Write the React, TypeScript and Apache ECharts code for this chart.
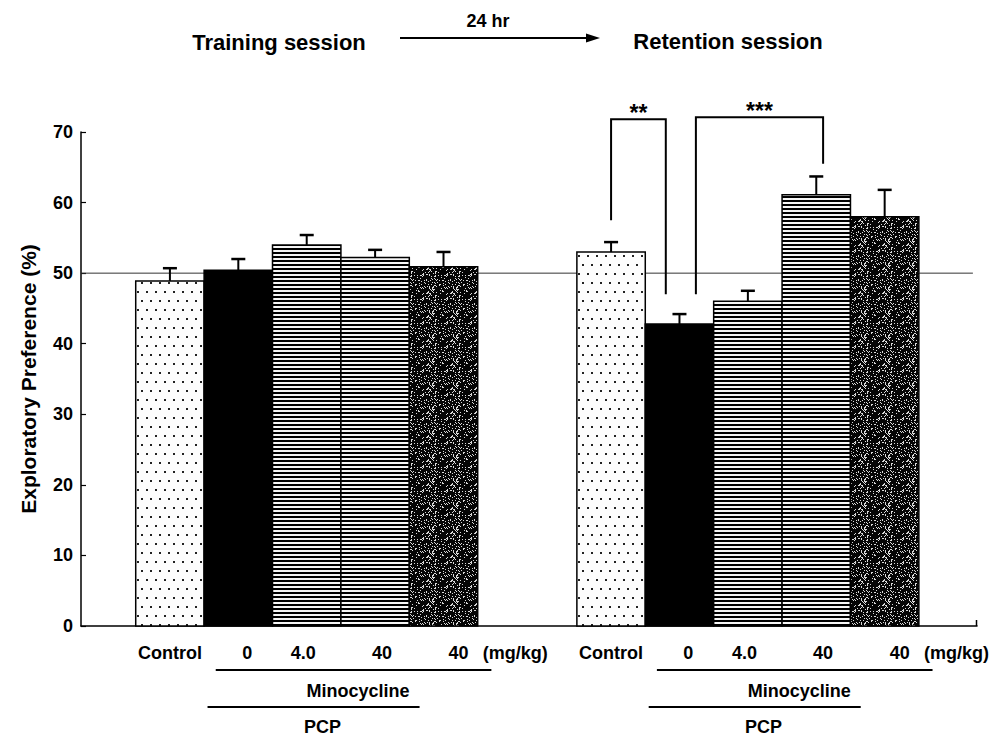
import React, { useEffect, useRef } from 'react';
import * as echarts from 'echarts';

// ---------- data ----------
const doseLabels = ['Control', '0', '4.0', '40', '40'];
const unitLabel = '(mg/kg)';
const drugLabels = ['Minocycline', 'PCP'];
const sessionTitles = ['Training session', 'Retention session'];
const intervalLabel = '24 hr';
const trainingMeans = [48.9, 50.4, 54.0, 52.2, 50.9];
const trainingSEM = [1.8, 1.6, 1.4, 1.1, 2.1];
const retentionMeans = [53.0, 42.8, 46.0, 61.1, 58.0];
const retentionSEM = [1.4, 1.4, 1.5, 2.6, 3.8];
const yMin = 0;
const yMax = 70;
const yInterval = 10;
const chanceLevel = 50;
// significance brackets in the retention session (bar indices, value levels)
const sigLabels = ['**', '***'];
const sigFrom = [0, 1];
const sigTo = [1, 3];
const sigTop = [71.8, 72.1];
const sigFromBottom = [57.5, 47.0];
const sigToBottom = [47.0, 65.5];

// ---------- layout (not data) ----------
const X_MAX = 13.1;
const GROUP_START = [0.8, 7.25];
const LABEL_OFFSETS = [0.5, 1.63, 2.45, 3.6, 4.72];
const UNIT_OFFSET = 5.55;
const BRACKET_OFFSETS = [[0, -0.2], [0.24, 0.1]];
const FONT = '"Liberation Sans", Arial, Helvetica, sans-serif';

function hash(x: number, y: number) {
  let h = (x * 374761393 + y * 668265263) | 0;
  h = (h ^ (h >>> 13)) * 1274126177;
  h = h ^ (h >>> 16);
  return Math.abs(h) % 100;
}

function makePatterns(): any[] {
  const mk = (w: number, h: number, draw: (ctx: CanvasRenderingContext2D) => void) => {
    const c = document.createElement('canvas');
    c.width = w;
    c.height = h;
    const ctx = c.getContext('2d')!;
    draw(ctx);
    return { image: c, repeat: 'repeat', imageWidth: w, imageHeight: h };
  };
  const dotted = mk(9, 18, (ctx) => {
    ctx.fillStyle = '#fdfdfd';
    ctx.fillRect(0, 0, 9, 18);
    ctx.fillStyle = '#222';
    ctx.fillRect(2, 3, 2, 2);
    ctx.fillRect(6, 12, 2, 2);
  });
  const stripes = mk(4, 4, (ctx) => {
    ctx.fillStyle = '#f6f6f6';
    ctx.fillRect(0, 0, 4, 4);
    ctx.fillStyle = '#000';
    ctx.fillRect(0, 0, 4, 2);
  });
  const speckle = mk(24, 24, (ctx) => {
    ctx.fillStyle = '#050505';
    ctx.fillRect(0, 0, 24, 24);
    ctx.fillStyle = '#d8d8d8';
    for (let x = 0; x < 24; x++) {
      for (let y = 0; y < 24; y++) {
        if (hash(x, y) < 20) ctx.fillRect(x, y, 1, 1);
      }
    }
  });
  return [dotted, '#000', stripes, stripes, speckle];
}

export default function App() {
  const ref = useRef<HTMLDivElement>(null);

  useEffect(() => {
    if (!ref.current) return;
    document.body.style.margin = '0';
    const chart = echarts.init(ref.current, undefined, { renderer: 'svg' });
    const patterns = makePatterns();

    const groups = [
      { means: trainingMeans, sem: trainingSEM },
      { means: retentionMeans, sem: retentionSEM },
    ];
    const barData: number[][] = [];
    groups.forEach((g, gi) => {
      g.means.forEach((m, i) => {
        barData.push([GROUP_START[gi] + i + 0.5, m, i, g.sem[i]]);
      });
    });

    const option: any = {
      animation: false,
      backgroundColor: '#fff',
      grid: { left: 81, top: 132, right: 19, bottom: 110, outerBoundsMode: 'none' },
      xAxis: {
        type: 'value',
        min: 0,
        max: X_MAX,
        axisLine: { show: true, onZero: false, lineStyle: { color: '#000', width: 1.5 } },
        axisTick: { show: false },
        axisLabel: { show: false },
        splitLine: { show: false },
      },
      yAxis: {
        type: 'value',
        min: yMin,
        max: yMax,
        interval: yInterval,
        name: 'Exploratory Preference (%)',
        nameLocation: 'middle',
        nameGap: 42,
        nameTextStyle: { fontFamily: FONT, fontWeight: 'bold', fontSize: 21, color: '#000' },
        axisLine: { show: true, lineStyle: { color: '#000', width: 1.5 } },
        axisTick: { show: true, inside: true, length: 5, lineStyle: { color: '#000', width: 1.2 } },
        axisLabel: { fontFamily: FONT, fontWeight: 'bold', fontSize: 18, color: '#000', margin: 8 },
        splitLine: { show: false },
      },
      graphic: [
        {
          type: 'text', x: 279, y: 42,
          style: { text: sessionTitles[0], fill: '#000', font: `bold 22px ${FONT}`, align: 'center', verticalAlign: 'middle' },
        },
        {
          type: 'text', x: 728, y: 41,
          style: { text: sessionTitles[1], fill: '#000', font: `bold 22px ${FONT}`, align: 'center', verticalAlign: 'middle' },
        },
        {
          type: 'text', x: 488, y: 21,
          style: { text: intervalLabel, fill: '#000', font: `bold 18px ${FONT}`, align: 'center', verticalAlign: 'middle' },
        },
        {
          type: 'line', shape: { x1: 400, y1: 38, x2: 590, y2: 38 },
          style: { stroke: '#000', lineWidth: 2 },
        },
        {
          type: 'polygon', shape: { points: [[586, 33.5], [600, 38], [586, 42.5]] },
          style: { fill: '#000' },
        },
      ],
      series: [
        {
          type: 'line',
          name: 'chance',
          data: [[0, chanceLevel], [13.04, chanceLevel]],
          symbol: 'none',
          silent: true,
          z: 1,
          lineStyle: { color: '#333', width: 1 },
        },
        {
          type: 'custom',
          name: 'bars',
          z: 2,
          clip: false,
          data: barData,
          renderItem: (params: any, api: any) => {
            const x = api.value(0);
            const v = api.value(1);
            const kind = api.value(2);
            const p0 = api.coord([x - 0.5, v]);
            const p1 = api.coord([x + 0.5, 0]);
            return {
              type: 'rect',
              shape: { x: p0[0], y: p0[1], width: p1[0] - p0[0], height: p1[1] - p0[1] },
              style: { fill: patterns[kind], stroke: '#000', lineWidth: 1.5 },
            };
          },
        },
        {
          type: 'custom',
          name: 'errors',
          z: 3,
          clip: false,
          data: barData,
          renderItem: (params: any, api: any) => {
            const x = api.value(0);
            const v = api.value(1);
            const e = api.value(3);
            const b = api.coord([x, v]);
            const t = api.coord([x, v + e]);
            return {
              type: 'group',
              children: [
                { type: 'line', shape: { x1: b[0], y1: b[1], x2: t[0], y2: t[1] }, style: { stroke: '#000', lineWidth: 2 } },
                { type: 'line', shape: { x1: t[0] - 7, y1: t[1], x2: t[0] + 7, y2: t[1] }, style: { stroke: '#000', lineWidth: 2.5 } },
              ],
            };
          },
        },
        {
          type: 'custom',
          name: 'brackets',
          z: 4,
          clip: false,
          data: sigLabels.map((_, k) => [k]),
          renderItem: (params: any, api: any) => {
            const k = api.value(0);
            const base = GROUP_START[1] + 0.5;
            const xl = base + sigFrom[k] + BRACKET_OFFSETS[k][0];
            const xr = base + sigTo[k] + BRACKET_OFFSETS[k][1];
            const a = api.coord([xl, sigFromBottom[k]]);
            const b = api.coord([xl, sigTop[k]]);
            const c = api.coord([xr, sigTop[k]]);
            const d = api.coord([xr, sigToBottom[k]]);
            return {
              type: 'group',
              children: [
                { type: 'polyline', shape: { points: [a, b, c, d] }, style: { stroke: '#000', lineWidth: 2, fill: 'none' } },
                {
                  type: 'text',
                  x: (b[0] + c[0]) / 2,
                  y: b[1] + 5,
                  style: { text: sigLabels[k], fill: '#000', font: `bold 23px ${FONT}`, align: 'center', verticalAlign: 'bottom' },
                },
              ],
            };
          },
        },
        {
          type: 'custom',
          name: 'groupLabels',
          z: 4,
          clip: false,
          data: [[0], [1]],
          renderItem: (params: any, api: any) => {
            const g = api.value(0);
            const start = GROUP_START[g];
            const y0 = api.coord([0, 0])[1];
            const px = (u: number) => api.coord([start + u, 0])[0];
            const txt = (s: string, x: number, y: number, size: number) => ({
              type: 'text',
              x,
              y,
              style: { text: s, fill: '#000', font: `bold ${size}px ${FONT}`, align: 'center', verticalAlign: 'middle' },
            });
            const children: any[] = [];
            doseLabels.forEach((s, i) => children.push(txt(s, px(LABEL_OFFSETS[i]), y0 + 27, 18)));
            children.push(txt(unitLabel, px(UNIT_OFFSET), y0 + 27, 18));
            children.push({ type: 'line', shape: { x1: px(1.17), y1: y0 + 44, x2: px(5.2), y2: y0 + 44 }, style: { stroke: '#000', lineWidth: 2 } });
            children.push(txt(drugLabels[0], px(3.25), y0 + 65, 18));
            children.push({ type: 'line', shape: { x1: px(1.05), y1: y0 + 81, x2: px(4.15), y2: y0 + 81 }, style: { stroke: '#000', lineWidth: 2 } });
            children.push(txt(drugLabels[1], px(2.73), y0 + 101, 18));
            if (g === 1) {
              const e = api.coord([X_MAX, 0]);
              children.push({ type: 'line', shape: { x1: e[0] - 0.5, y1: e[1], x2: e[0] - 0.5, y2: e[1] - 6 }, style: { stroke: '#000', lineWidth: 1.5 } });
            }
            return { type: 'group', children };
          },
        },
      ],
    };

    chart.setOption(option);
    return () => chart.dispose();
  }, []);

  return <div ref={ref} style={{ width: 996, height: 736 }} />;
}
